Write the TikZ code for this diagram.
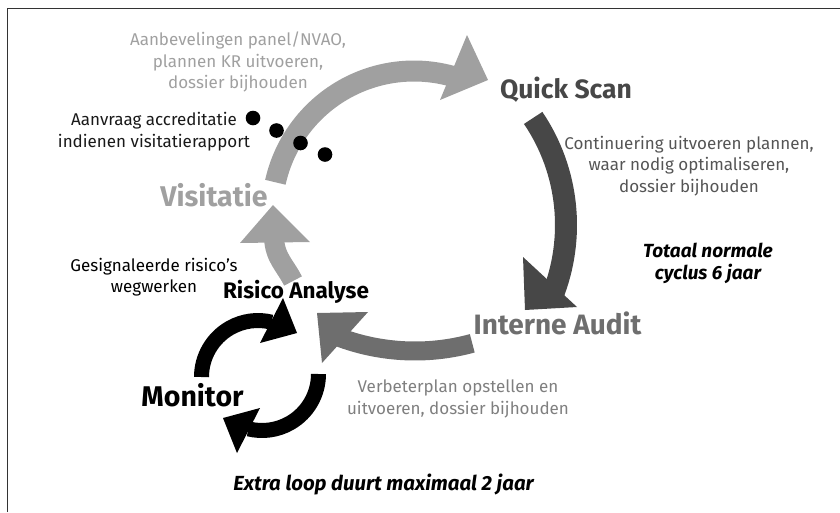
\documentclass[tikz,border=0pt]{standalone}
\usepackage{fontspec}
\setmainfont{Fira Sans}
\definecolor{lightarrow}{HTML}{A0A0A0}
\definecolor{darkarrow}{HTML}{474747}
\definecolor{midarrow}{HTML}{6E6E6E}
\definecolor{lighttext}{HTML}{A0A0A0}
\definecolor{darktext}{HTML}{555555}
\definecolor{midtext}{HTML}{7F7F7F}
\definecolor{framecol}{HTML}{333333}
\begin{document}
\begin{tikzpicture}[x=1pt,y=-1pt,
  para/.style={inner sep=0pt, align=center, font=\fontsize{17}{21.5}\selectfont},
  ttl/.style={inner sep=0pt, anchor=base, font=\fontsize{26.5}{30}\selectfont\bfseries},
  note/.style={inner sep=0pt, align=center, font=\fontsize{19}{22}\selectfont\bfseries\itshape},
  dot/.style={circle, fill=black, inner sep=0pt, minimum size=14.6pt},
  shaft/.style={line width=#1, line cap=butt},
]
\useasboundingbox (0,0) rectangle (840,512);
% frame (top and left edges visible)
\draw[framecol, line width=1.5pt] (7.5,512) -- (7.5,8.5) -- (840,8.5);

% centres of the arrow arcs
\coordinate (c1) at (414,213);
\coordinate (c2) at (375,225);
\coordinate (c3) at (415,134);
\coordinate (c5) at (258,377);
\coordinate (c6) at (262,374);

% Visitatie -> Quick Scan
\draw[lightarrow, shaft=21pt] (c1) ++(-167.5:142) arc[start angle=-167.5, end angle=-74, radius=142];
\fill[lightarrow] (467,35) -- (488,80) -- (440,100) -- cycle;

% Quick Scan -> Interne Audit
\draw[darkarrow, shaft=22pt] (c2) ++(-34.1:191) arc[start angle=-34.1, end angle=22, radius=191];
\fill[darkarrow] (523,257) -- (577,307) -- (525,310) -- cycle;

% Interne Audit -> Risico Analyse
\draw[midarrow, shaft=19pt] (c3) ++(74.7:217) arc[start angle=74.7, end angle=111, radius=217];
\fill[midarrow] (368,312) -- (322,363) -- (317,313) -- cycle;

% Risico Analyse -> Visitatie
\draw[lightarrow, shaft=20pt] (293,281) .. controls (285,265) and (275,258) .. (274,238);
\fill[lightarrow] (240,243) -- (310,242) -- (273,205) -- cycle;

% Monitor loop (black)
\draw[black, shaft=15pt] (c5) ++(-180:56.5) arc[start angle=-180, end angle=-76, radius=56.5];
\fill[black] (260,343) -- (283,298) -- (297,333) -- cycle;
\draw[black, shaft=15pt] (c6) ++(0:56.5) arc[start angle=0, end angle=104, radius=56.5];
\fill[black] (260,408) -- (237,453) -- (223,418) -- cycle;

% dots
\node[dot] (d1) at (253,118) {};
\node[dot] (d2) at (276.5,130.5) {};
\node[dot] (d3) at (300.5,143) {};
\node[dot] (d4) at (325,154.5) {};

% texts
\node[para, text=lighttext] (aanb) at (238,62) {Aanbevelingen panel/NVAO,\\plannen KR uitvoeren,\\dossier bijhouden};
\node[para, text=black!90] (aanv) at (154,131.5) {Aanvraag accreditatie\\indienen visitatierapport};
\node[para, text=darktext] (cont) at (689,166) {Continuering uitvoeren plannen,\\waar nodig optimaliseren,\\dossier bijhouden};
\node[note, text=black] (tot) at (708,263) {Totaal normale\\cyclus 6 jaar};
\node[para, text=midtext] (verb) at (458,398.7) {Verbeterplan opstellen en\\uitvoeren, dossier bijhouden};
\node[para, text=black] (gesig) at (154,277) {Gesignaleerde risico’s\\wegwerken};

\node[ttl, text=lighttext, font=\fontsize{28.5}{32}\selectfont\bfseries] (visit) at (214,206.7) {Visitatie};
\node[ttl, text=darkarrow] (quick) at (566,98.3) {Quick Scan};
\node[ttl, text=midarrow, font=\fontsize{28}{32}\selectfont\bfseries] (audit) at (557.5,334) {Interne Audit};
\node[ttl, text=black, font=\fontsize{22.5}{26}\selectfont\bfseries] (risico) at (296,298.3) {Risico Analyse};
\node[ttl, text=black, font=\fontsize{28.5}{32}\selectfont\bfseries] (monitor) at (192.5,406) {Monitor};
\node[note, anchor=base, text=black, font=\fontsize{20.4}{24}\selectfont\bfseries\itshape] (extra) at (383.5,490) {Extra loop duurt maximaal 2 jaar};
\end{tikzpicture}
\end{document}
